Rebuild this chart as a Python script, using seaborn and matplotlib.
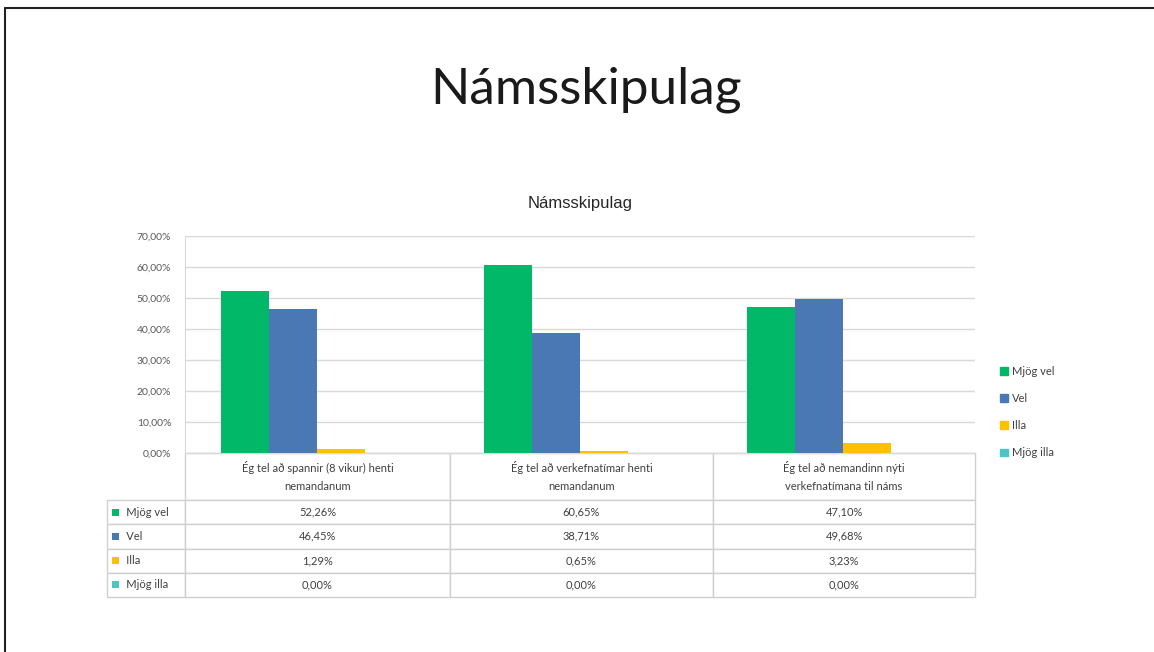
import matplotlib
matplotlib.use("Agg")
import matplotlib.pyplot as plt
import matplotlib.patches as mpatches
import seaborn as sns
import pandas as pd
import numpy as np

# data
questions = [
    "Ég tel að spannir (8 vikur) henti\nnemandanum",
    "Ég tel að verkefnatímar henti\nnemandanum",
    "Ég tel að nemandinn nýti\nverkefnatímana til náms",
]
answers = ["Mjög vel", "Vel", "Illa", "Mjög illa"]
mjog_vel = [52.26, 60.65, 47.10]
vel = [46.45, 38.71, 49.68]
illa = [1.29, 0.65, 3.23]
mjog_illa = [0.00, 0.00, 0.00]
yticks = [0, 10, 20, 30, 40, 50, 60, 70]

colors = ["#00B868", "#4A78B4", "#FFC000", "#4CC4C6"]

series = [mjog_vel, vel, illa, mjog_illa]
df = pd.DataFrame({
    "q": [str(i) for i in range(len(questions))] * len(answers),
    "svar": np.repeat(answers, len(questions)),
    "gildi": np.concatenate(series),
})

sns.set_style("white")
plt.rcParams["font.family"] = ["Lato", "DejaVu Sans"]

fig = plt.figure(figsize=(11.54, 6.52), dpi=100)
ax = fig.add_axes([185 / 1154, 1 - 453 / 652, 790 / 1154, 217 / 652])

sns.barplot(data=df, x="q", y="gildi", hue="svar", hue_order=answers,
            palette=colors, width=0.73, saturation=1, ax=ax, legend=False,
            errorbar=None, linewidth=0)

ax.set_ylim(0, 70)
ax.set_yticks(yticks)
ax.set_yticklabels([f"{v:.2f}%".replace(".", ",") for v in yticks],
                   fontsize=7.5, color="#595959")
ax.tick_params(axis="y", length=0, pad=10)
ax.set_xticks([])
ax.set_xlabel("")
ax.set_ylabel("")
ax.grid(axis="y", color="#D9D9D9", lw=1)
ax.set_axisbelow(True)
for s in ["top", "right"]:
    ax.spines[s].set_visible(False)
ax.spines["left"].set_color("#D9D9D9")
ax.spines["bottom"].set_color("#D9D9D9")

# data table under the axis
cell_text = [[""] + questions]
for a, vals in zip(answers, series):
    cell_text.append(["      " + a] + [f"{v:.2f}%".replace(".", ",") for v in vals])

tbl = ax.table(cellText=cell_text, colWidths=[78, 265, 263, 262],
               cellLoc="center", bbox=[-78 / 790, -144 / 217, 868 / 790, 144 / 217])
tbl.auto_set_font_size(False)
for (r, c), cell in tbl.get_celld().items():
    cell.set_edgecolor("#D0D0D0")
    cell.set_linewidth(1)
    cell.get_text().set_fontsize(8)
    cell.get_text().set_color("#404040")
    cell.get_text().set_linespacing(1.7)
    cell.set_height(47 if r == 0 else 24.25)
    if c == 0:
        cell.get_text().set_ha("left")
        cell._loc = "left"
        cell.PAD = 0.02
    if r == 0 and c == 0:
        cell.visible_edges = ""

# coloured keys in the table row labels
fig.canvas.draw()
for r, col in enumerate(colors, start=1):
    cell = tbl[r, 0]
    bb = cell.get_window_extent(fig.canvas.get_renderer())
    inv = fig.transFigure.inverted()
    x0, y0 = inv.transform((bb.x0 + 5, (bb.y0 + bb.y1) / 2 - 3.5))
    fig.patches.append(mpatches.Rectangle((x0, y0), 7 / 1154, 7 / 652,
                                          transform=fig.transFigure,
                                          facecolor=col, edgecolor="none"))

# legend
handles = [mpatches.Patch(color=c, label=a) for c, a in zip(colors, answers)]
fig.legend(handles=handles, loc="upper left", bbox_to_anchor=(990 / 1154, 1 - 356 / 652),
           frameon=False, fontsize=8, handlelength=0.7, handleheight=0.7,
           handletextpad=0.4, labelspacing=1.45, labelcolor="#404040")

# titles
ax.set_title("Námsskipulag", fontsize=12, color="#262626",
             family=["Liberation Sans"], pad=20)
fig.text(586 / 1154, 1 - 90 / 652, "Námsskipulag", fontsize=37, ha="center",
         va="center", color="#1a1a1a")

# slide frame lines (left and top edges)
fig.add_artist(plt.Line2D([5 / 1154, 5 / 1154], [0, 1 - 8 / 652], color="#222222",
                          lw=1.5, transform=fig.transFigure))
fig.add_artist(plt.Line2D([5 / 1154, 1], [1 - 8 / 652, 1 - 8 / 652], color="#222222",
                          lw=1.5, transform=fig.transFigure))

fig.savefig("out.png", dpi=100)
